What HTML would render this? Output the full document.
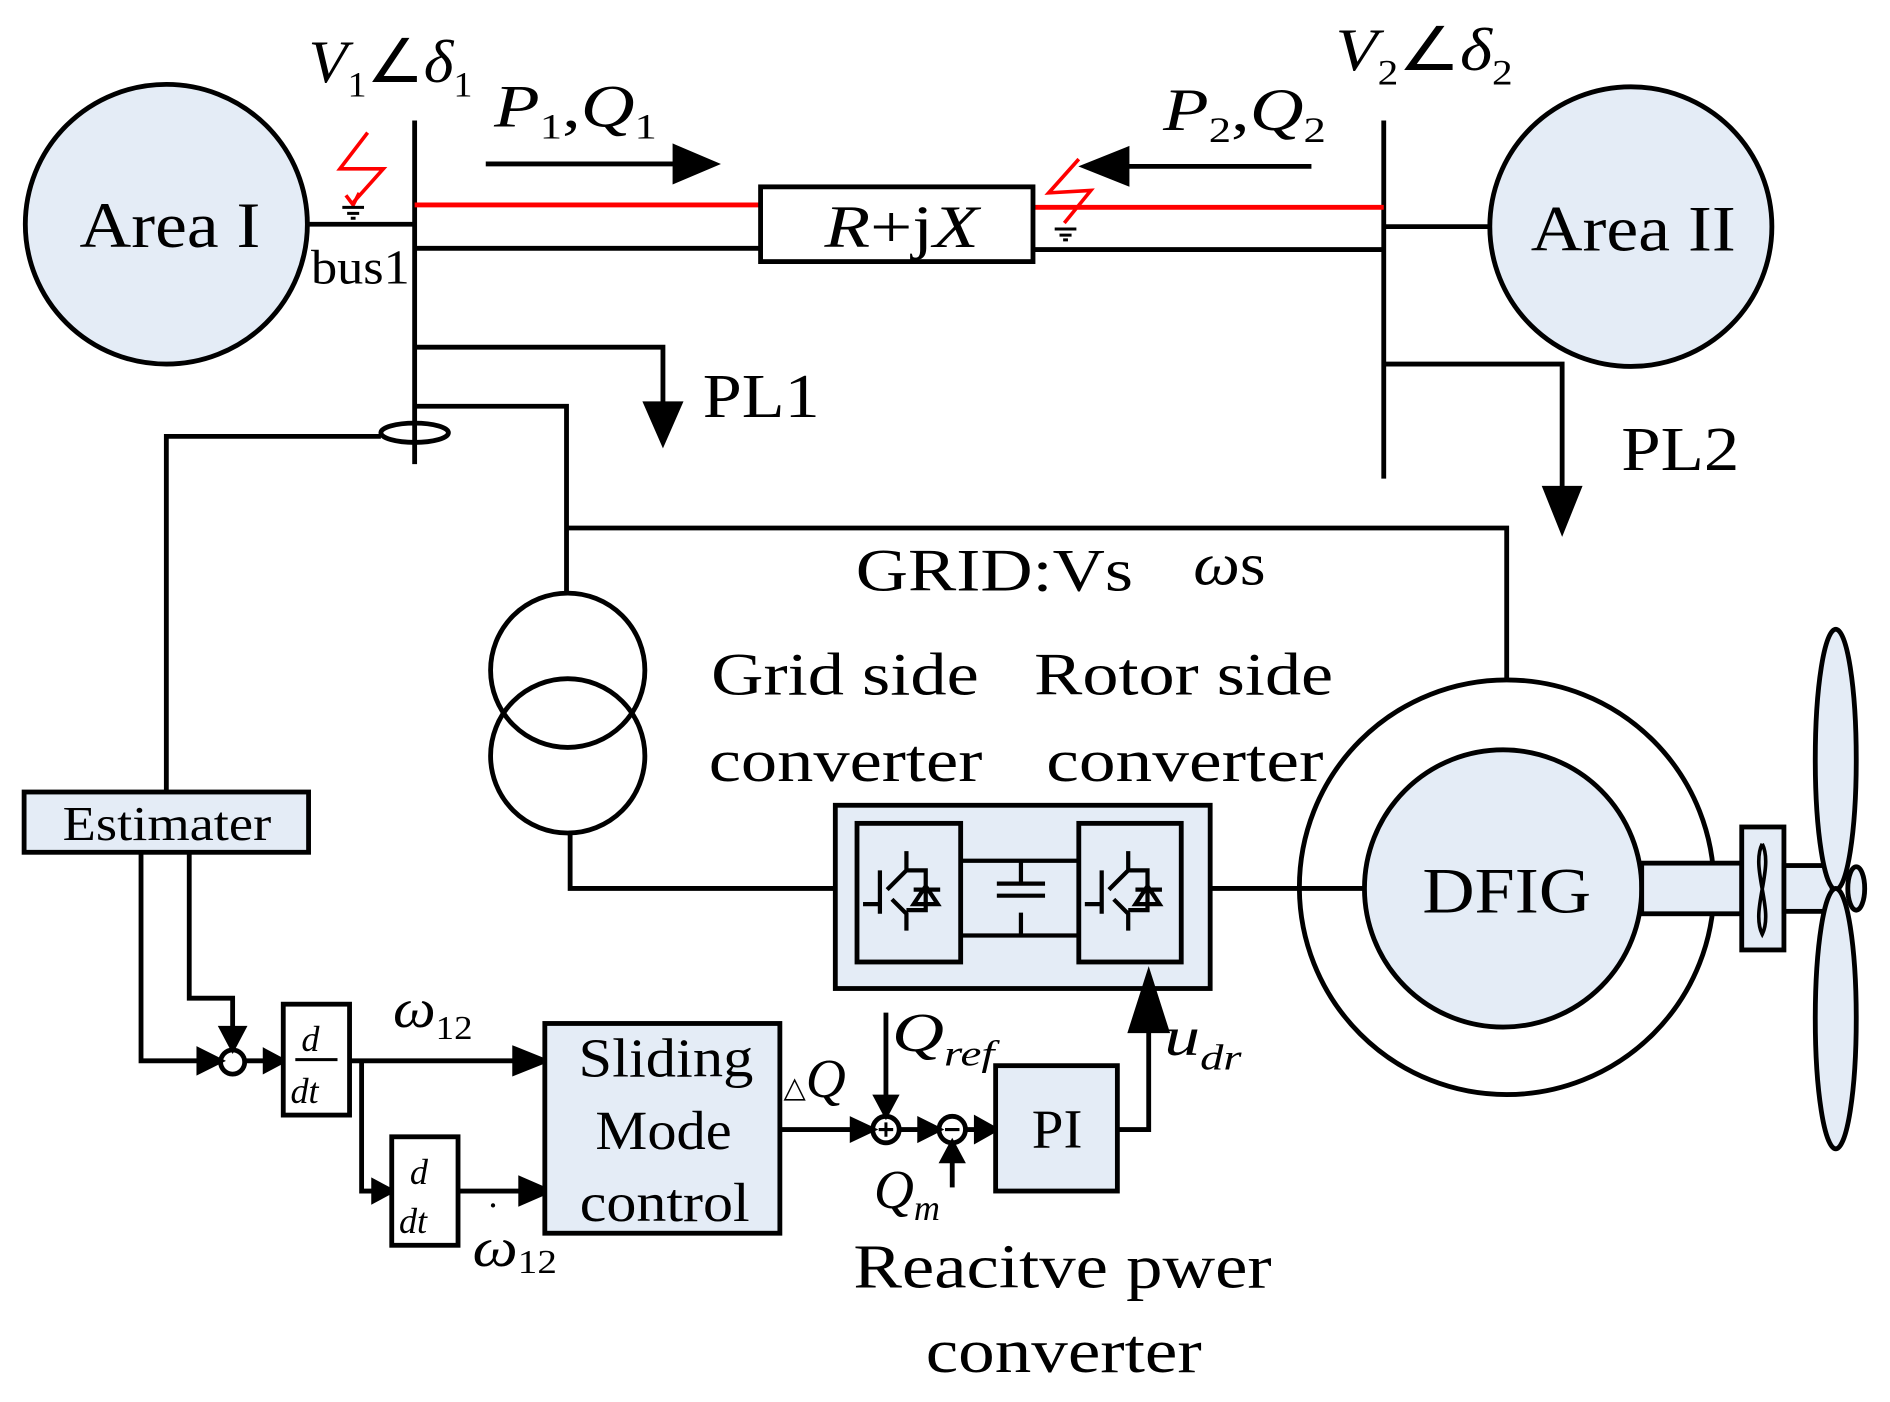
<!DOCTYPE html>
<html><head><meta charset="utf-8"><style>html,body{margin:0;padding:0;background:#fff}svg{display:block}</style></head>
<body>
<svg width="1890" height="1402" viewBox="0 0 1568 1163" preserveAspectRatio="none" xmlns="http://www.w3.org/2000/svg" font-family="Liberation Serif, serif">
<g stroke="#000" stroke-width="4" fill="none">
<ellipse cx="138" cy="186" rx="117" ry="116" fill="#e4ecf6"/>
<ellipse cx="1353" cy="188" rx="117" ry="116" fill="#e4ecf6"/>
<path d="M256,186H344M344,100V385M344,206H632M857,207H1148M1148,100V397M1148,188H1237"/>
<path d="M344,170H632M857,172H1148" stroke="#f00"/>
<rect x="631" y="155" width="226" height="62" fill="#fff"/>
<path d="M403,136H565" /><path d="M560,122L593,136L560,150z" fill="#000"/>
<path d="M1088,138H930"/><path d="M935,124L900,138L935,152z" fill="#000"/>
<path d="M344,288H550V340"/><path d="M536,335L550,367L564,335z" fill="#000"/>
<path d="M1148,302H1296V410"/><path d="M1282,405L1296,440L1310,405z" fill="#000"/>
<ellipse cx="344" cy="359" rx="28" ry="8"/>
<path d="M316,362H138V657"/>
<path d="M344,337H470V492M470,438H1250V563"/>
<circle cx="471" cy="556" r="64"/>
<circle cx="471" cy="627" r="64"/>
<path d="M473,691V737H693"/>
<rect x="693" y="668" width="311" height="152" fill="#e4ecf6"/>
<rect x="711" y="683" width="86" height="115"/>
<rect x="895" y="683" width="85" height="115"/>
<path d="M797,714H895M797,776H895M847,714V733M847,757V776M827,733H867M827,743H867" stroke-width="3.5"/>
<path d="M1004,737H1133"/>
<circle cx="1250" cy="736" r="172"/>
<circle cx="1247" cy="737" r="115" fill="#e4ecf6"/>
<rect x="1362" y="716" width="83" height="42" fill="#e4ecf6"/>
<rect x="1445" y="686" width="35" height="102" fill="#e4ecf6"/>
<rect x="1480" y="718" width="40" height="38" fill="#e4ecf6"/>
<ellipse cx="1523" cy="630" rx="17" ry="108" fill="#e4ecf6"/>
<ellipse cx="1523" cy="845" rx="17" ry="108" fill="#e4ecf6"/>
<ellipse cx="1540" cy="737" rx="7" ry="18" fill="#e4ecf6"/>
<path d="M1462,700C1452,720 1472,755 1462,775C1452,755 1472,720 1462,700" stroke-width="3"/>
<rect x="20" y="657" width="236" height="50" fill="#e4ecf6"/>
<path d="M117,707V880H170"/><path d="M165,871L183,880L165,889z" fill="#000"/>
<path d="M157,707V828H193V858"/><path d="M184,853L193,870L202,853z" fill="#000"/>
<circle cx="193" cy="881" r="10"/>
<path d="M203,880H225"/><path d="M220,872L235,880L220,888z" fill="#000"/>
<rect x="235" y="833" width="55" height="92" fill="#fff"/>
<path d="M245,879H280M335,988H370" stroke-width="2.5"/>
<path d="M290,880H430"/><path d="M427,870L452,880L427,890z" fill="#000"/>
<path d="M300,880V988H315"/><path d="M310,980L325,988L310,996z" fill="#000"/>
<rect x="325" y="943" width="55" height="90" fill="#fff"/>
<path d="M380,988H435"/><path d="M432,978L455,988L432,998z" fill="#000"/>
<rect x="452" y="849" width="195" height="174" fill="#e4ecf6"/>
<path d="M647,937H712"/><path d="M707,929L724,937L707,945z" fill="#000"/>
<circle cx="735" cy="937" r="11"/>
<path d="M735,840V915"/><path d="M727,910L735,925L743,910z" fill="#000"/>
<path d="M746,937H768"/><path d="M763,929L779,937L763,945z" fill="#000"/>
<circle cx="790" cy="937" r="11"/>
<path d="M790,985V960"/><path d="M782,963L790,948L798,963z" fill="#000"/>
<path d="M801,937H815"/><path d="M810,928L826,937L810,946z" fill="#000"/>
<rect x="826" y="884" width="101" height="104" fill="#e4ecf6"/>
<path d="M927,937H953V850"/><path d="M938,855L953,808L968,855z" fill="#000"/>
<path d="M729,937H741M735,931V943M784,937H796" stroke-width="2.5"/>
</g>
<g stroke-width="3.5" fill="none" stroke="#000">
<path d="M716,750H730V722M730,758V722M736,738L752,722V706M740,746L752,758V772M752,722H768V755H752M758,750L768,735L778,750zM758,738H780"/>
<path d="M900,750H914V722M914,758V722M920,738L936,722V706M924,746L936,758V772M936,722H952V755H936M942,750L952,735L962,750zM942,738H964"/>
</g>
<g stroke="#f00" stroke-width="3" fill="none">
<path d="M305,110L282,140L318,140L293,168"/><path d="M287,162L293,170L298,160" />
<path d="M895,132L870,160L905,158L883,185"/>
</g>
<g stroke="#000" stroke-width="2.5"><path d="M284,172H302M288,177H298M291,181H295M875,190H893M879,195H889M882,199H886"/></g>
<g fill="#000" font-size="54" lengthAdjust="spacingAndGlyphs">
<text x="66" y="205" textLength="150" lengthAdjust="spacingAndGlyphs">Area I</text>
<text x="1270" y="208" textLength="170" lengthAdjust="spacingAndGlyphs">Area II</text>
<text x="258" y="235" font-size="40" textLength="82" lengthAdjust="spacingAndGlyphs">bus1</text>
<text x="684" y="205" font-size="50" textLength="128" lengthAdjust="spacingAndGlyphs"><tspan font-style="italic">R</tspan>+j<tspan font-style="italic">X</tspan></text>
<text x="256" y="68" font-style="italic" font-size="50" textLength="136" lengthAdjust="spacingAndGlyphs">V<tspan font-size="30" dy="12" font-style="normal">1</tspan><tspan dy="-12" font-style="normal">∠</tspan>δ<tspan font-size="30" dy="12" font-style="normal">1</tspan></text>
<text x="1108" y="58" font-style="italic" font-size="50" textLength="147" lengthAdjust="spacingAndGlyphs">V<tspan font-size="30" dy="12" font-style="normal">2</tspan><tspan dy="-12" font-style="normal">∠</tspan>δ<tspan font-size="30" dy="12" font-style="normal">2</tspan></text>
<text x="410" y="105" font-style="italic" font-size="50" textLength="135" lengthAdjust="spacingAndGlyphs">P<tspan font-size="30" dy="10" font-style="normal">1</tspan><tspan dy="-10" font-style="normal">,</tspan>Q<tspan font-size="30" dy="10" font-style="normal">1</tspan></text>
<text x="965" y="108" font-style="italic" font-size="50" textLength="135" lengthAdjust="spacingAndGlyphs">P<tspan font-size="30" dy="10" font-style="normal">2</tspan><tspan dy="-10" font-style="normal">,</tspan>Q<tspan font-size="30" dy="10" font-style="normal">2</tspan></text>
<text x="583" y="346" font-size="52" textLength="97" lengthAdjust="spacingAndGlyphs">PL1</text>
<text x="1345" y="390" font-size="52" textLength="98" lengthAdjust="spacingAndGlyphs">PL2</text>
<text x="710" y="490" font-size="50" textLength="230" lengthAdjust="spacingAndGlyphs">GRID:Vs</text>
<text x="990" y="485" font-size="50" textLength="60" lengthAdjust="spacingAndGlyphs"><tspan font-style="italic">ω</tspan>s</text>
<text x="590" y="576" font-size="50" textLength="222" lengthAdjust="spacingAndGlyphs">Grid side</text>
<text x="588" y="648" font-size="50" textLength="227" lengthAdjust="spacingAndGlyphs">converter</text>
<text x="858" y="576" font-size="50" textLength="248" lengthAdjust="spacingAndGlyphs">Rotor side</text>
<text x="868" y="648" font-size="50" textLength="230" lengthAdjust="spacingAndGlyphs">converter</text>
<text x="1180" y="757" font-size="54" textLength="140" lengthAdjust="spacingAndGlyphs">DFIG</text>
<text x="52" y="697" font-size="40" textLength="173" lengthAdjust="spacingAndGlyphs">Estimater</text>
<text x="250" y="872" font-size="30" font-style="italic">d</text>
<text x="241" y="915" font-size="30" font-style="italic">dt</text>
<text x="340" y="982" font-size="30" font-style="italic">d</text>
<text x="331" y="1023" font-size="30" font-style="italic">dt</text>
<text x="326" y="852" font-size="46" font-style="italic" textLength="66" lengthAdjust="spacingAndGlyphs">ω<tspan font-size="28" dy="10" font-style="normal">12</tspan></text>
<text x="392" y="1050" font-size="46" font-style="italic" textLength="70" lengthAdjust="spacingAndGlyphs">ω<tspan font-size="28" dy="6" font-style="normal">12</tspan></text>
<text x="404" y="1010" font-size="30">·</text>
<text x="480" y="893" font-size="46" textLength="145" lengthAdjust="spacingAndGlyphs">Sliding</text>
<text x="494" y="953" font-size="46" textLength="113" lengthAdjust="spacingAndGlyphs">Mode</text>
<text x="481" y="1013" font-size="46" textLength="141" lengthAdjust="spacingAndGlyphs">control</text>
<text x="650" y="910" font-size="46" font-style="italic"><tspan font-size="24" font-style="normal">△</tspan>Q</text>
<text x="740" y="872" font-size="46" font-style="italic" textLength="85" lengthAdjust="spacingAndGlyphs">Q<tspan font-size="30" dy="12">ref</tspan></text>
<text x="725" y="1002" font-size="46" font-style="italic">Q<tspan font-size="30" dy="10">m</tspan></text>
<text x="856" y="952" font-size="46" textLength="42" lengthAdjust="spacingAndGlyphs">PI</text>
<text x="966" y="875" font-size="46" font-style="italic" textLength="64" lengthAdjust="spacingAndGlyphs">u<tspan font-size="30" dy="12">dr</tspan></text>
<text x="708" y="1068" font-size="52" textLength="347" lengthAdjust="spacingAndGlyphs">Reacitve pwer</text>
<text x="768" y="1138" font-size="52" textLength="229" lengthAdjust="spacingAndGlyphs">converter</text>
</g>
</svg>
</body></html>
